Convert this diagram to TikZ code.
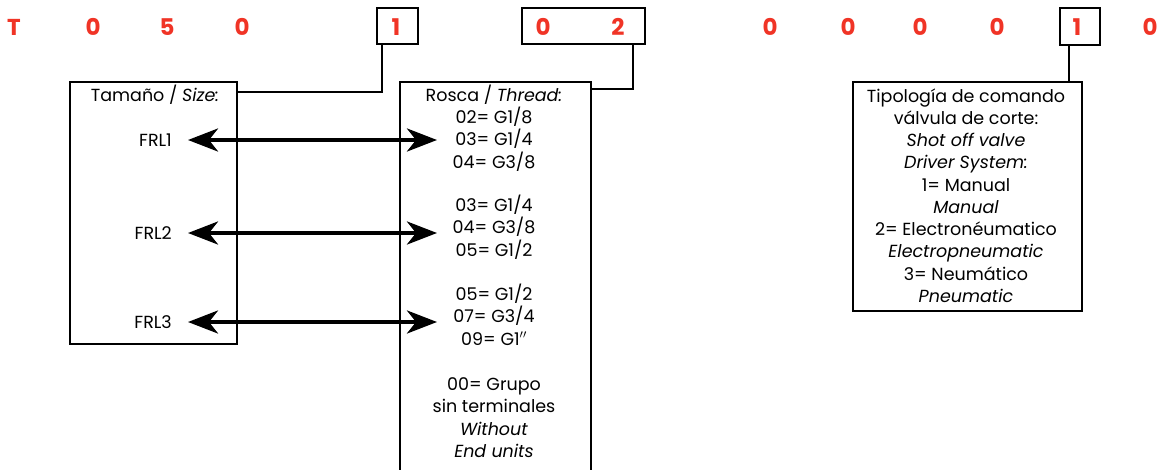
\documentclass[tikz,border=0pt]{standalone}
\usepackage{fontspec}
\setmainfont{Poppins}
\usetikzlibrary{arrows.meta}
\definecolor{codered}{RGB}{240,52,38}
\begin{document}
\begin{tikzpicture}[x=1pt,y=-1pt,
  box/.style={draw, line width=2.4pt, inner sep=0pt, anchor=north west},
  link/.style={draw, line width=2.4pt},
  code/.style={text=codered, font=\bfseries\fontsize{23}{23}\selectfont, inner sep=0pt},
  txt/.style={font=\fontsize{17.5}{17.5}\selectfont, inner sep=0pt, anchor=base},
  arr/.style={line width=4pt, {Stealth[length=30pt,width=23pt,inset=9pt]}-{Stealth[length=30pt,width=23pt,inset=9pt]}}
]
\useasboundingbox (0,0) rectangle (1161,469);

% header code characters
\node[code] (cT) at (14,27) {T};
\node[code] (c0a) at (93,27) {0};
\node[code] (c5) at (167,27) {5};
\node[code] (c0b) at (242,27) {0};
\node[box, minimum width=41pt, minimum height=36pt] (b1) at (376,7) {};
\node[code] (c1) at (396,27) {1};
\node[box, minimum width=123pt, minimum height=36pt] (b02) at (521,7) {};
\node[code] (c0c) at (543,27) {0};
\node[code] (c2) at (618,27) {2};
\node[code] (c0d) at (770,27) {0};
\node[code] (c0e) at (848,27) {0};
\node[code] (c0f) at (920,27) {0};
\node[code] (c0g) at (997,27) {0};
\node[box, minimum width=40pt, minimum height=37pt] (b3) at (1059,7) {};
\node[code] (c1b) at (1077,27) {1};
\node[code] (c0h) at (1150,27) {0};

% boxes
\node[box, minimum width=167pt, minimum height=262pt] (size) at (69,81) {};
\node[box, minimum width=191pt, minimum height=400pt] (rosca) at (399,81) {};
\node[box, minimum width=229pt, minimum height=229pt] (cmd) at (852,81) {};

% connectors
\coordinate (k1) at (382,92);
\coordinate (k2) at (633,89);
\coordinate (k3) at (1069,60);
\draw[link] (b1.south -| k1) -- (k1) -- (k1 -| size.east);
\draw[link] (b02.south -| k2) -- (k2) -- (k2 -| rosca.east);
\draw[link] (b3.south -| k3) -- (k3 |- cmd.north);

% size box
\node[txt] (sizet) at (155,101) {Tamaño / \textit{Size:}};
\node[txt, anchor=base east] (frl1) at (172,146) {FRL1};
\node[txt, anchor=base east] (frl2) at (172,239) {FRL2};
\node[txt, anchor=base east] (frl3) at (172,328) {FRL3};

% rosca box
\node[txt] (rt) at (494,101) {Rosca / \textit{Thread:}};
\node[txt] (r1a) at (494,123) {02= G1/8};
\node[txt] (r1b) at (494,145.5) {03= G1/4};
\node[txt] (r1c) at (494,168) {04= G3/8};
\node[txt] (r2a) at (494,211) {03= G1/4};
\node[txt] (r2b) at (494,233.5) {04= G3/8};
\node[txt] (r2c) at (494,256) {05= G1/2};
\node[txt] (r3a) at (494,300) {05= G1/2};
\node[txt] (r3b) at (494,322.5) {07= G3/4};
\node[txt] (r3c) at (494,345) {09= G1$''$};
\node[txt] (r4a) at (494,390) {00= Grupo};
\node[txt] (r4b) at (494,412.5) {sin terminales};
\node[txt] (r4c) at (494,435) {\textit{Without}};
\node[txt] (r4d) at (494,457.5) {\textit{End units}};

% arrows
\coordinate (e1) at (437,140);
\coordinate (e2) at (437,233);
\coordinate (e3) at (437,322);
\draw[arr] ([xshift=16pt]frl1.east |- e1) -- (e1);
\draw[arr] ([xshift=16pt]frl2.east |- e2) -- (e2);
\draw[arr] ([xshift=16pt]frl3.east |- e3) -- (e3);

% command box
\node[txt] (m1) at (966,102) {Tipología de comando};
\node[txt] (m2) at (966,124) {válvula de corte:};
\node[txt] (m3) at (966,146) {\textit{Shot off valve}};
\node[txt] (m4) at (966,168.5) {\textit{Driver System:}};
\node[txt] (m5) at (966,191) {1= Manual};
\node[txt] (m6) at (966,213) {\textit{Manual}};
\node[txt] (m7) at (966,235) {2= Electronéumatico};
\node[txt] (m8) at (966,257.5) {\textit{Electropneumatic}};
\node[txt] (m9) at (966,280) {3= Neumático};
\node[txt] (m10) at (966,302) {\textit{Pneumatic}};
\end{tikzpicture}
\end{document}
